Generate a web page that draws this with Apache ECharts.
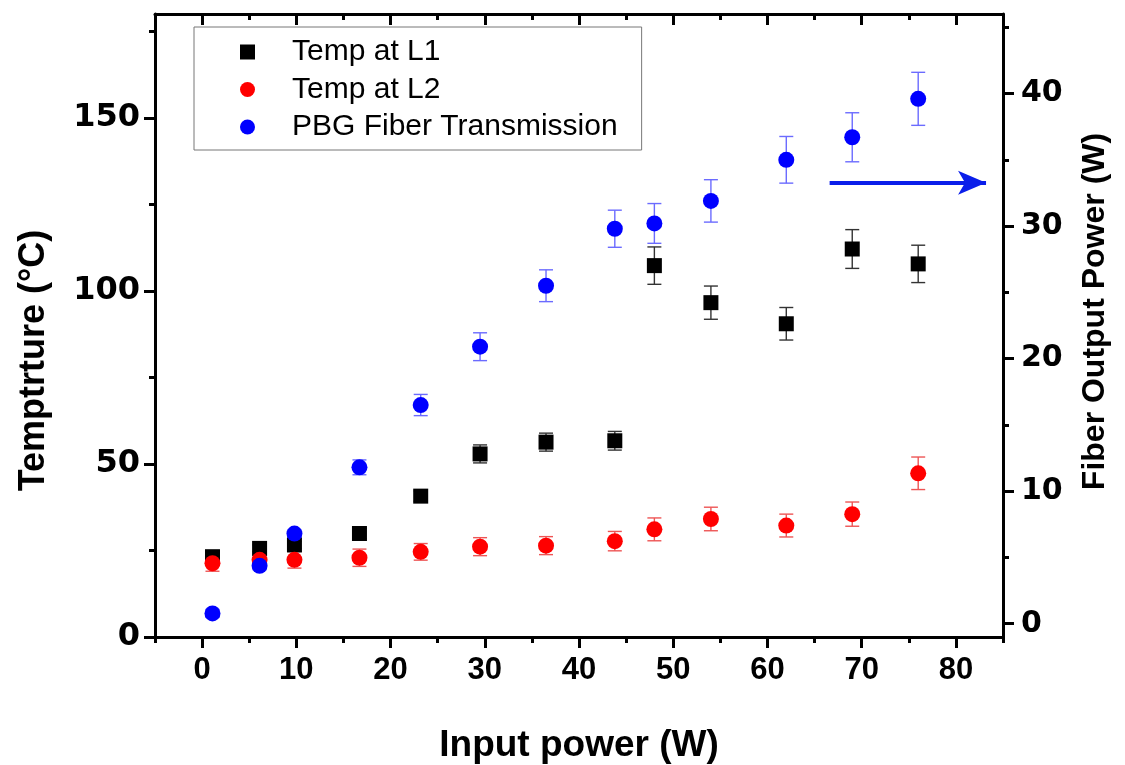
<!DOCTYPE html>
<html>
<head>
<meta charset="utf-8">
<title>Temperature and fiber output power vs input power</title>
<script src="https://cdn.jsdelivr.net/npm/echarts@6/dist/echarts.min.js"></script>
<style>
  html, body { margin: 0; padding: 0; background: #fff; }
  #chart { width: 1125px; height: 765px; }
</style>
</head>
<body>
<div id="chart"></div>
<script>
// Input power (W) at each measurement
const inputPower = [1.1, 6.1, 9.8, 16.7, 23.2, 29.5, 36.5, 43.8, 48.0, 54.0, 62.0, 69.0, 76.0];

// Temperature at L1 (°C) and its uncertainty
const tempL1 = [23.2, 25.6, 26.6, 29.9, 40.7, 52.9, 56.3, 56.7, 107.3, 96.6, 90.5, 112.1, 107.8];
const tempL1Err = [1.0, 1.0, 1.0, 1.5, 1.5, 2.6, 2.6, 2.7, 5.4, 4.8, 4.7, 5.6, 5.4];

// Temperature at L2 (°C) and its uncertainty
const tempL2 = [21.3, 22.3, 22.3, 22.9, 24.6, 26.1, 26.4, 27.7, 31.1, 34.1, 32.2, 35.5, 47.3];
const tempL2Err = [2.3, 2.4, 2.4, 2.5, 2.4, 2.6, 2.6, 2.8, 3.3, 3.4, 3.3, 3.5, 4.7];

// PBG fiber output power (W) and its uncertainty
const fiberPower = [0.78, 4.37, 6.8, 11.8, 16.5, 20.9, 25.5, 29.8, 30.2, 31.9, 35.0, 36.7, 39.6];
const fiberPowerErr = [0.3, 0.3, 0.3, 0.56, 0.8, 1.05, 1.2, 1.4, 1.5, 1.6, 1.76, 1.85, 2.0];

// Tick values
const xMajorTicks = [0, 10, 20, 30, 40, 50, 60, 70, 80];
const xMinorTicks = [-5, 5, 15, 25, 35, 45, 55, 65, 75, 85];
const tempMajorTicks = [0, 50, 100, 150];
const tempMinorTicks = [25, 75, 125, 175];
const powerMajorTicks = [0, 10, 20, 30, 40];
const powerMinorTicks = [5, 15, 25, 35, 45];

// Arrow pointing at the right-hand axis: [x, fiber power] endpoints
const arrowStart = [66.6, 33.26];
const arrowEnd = [83.2, 33.26];

const seriesNames = ['Temp at L1', 'Temp at L2', 'PBG Fiber Transmission'];

const FONT = '"Liberation Sans", Arial, sans-serif';
const WIDE_FONT = '"DejaVu Sans", "Liberation Sans", sans-serif';
const AXIS_W = 3;

function buildErrorData(xs, ys, es) {
  return xs.map((x, i) => [x, ys[i] - es[i], ys[i] + es[i]]);
}

function errorBarSeries(name, xs, ys, es, color, yAxisIndex) {
  return {
    type: 'custom',
    name: name,
    xAxisIndex: 0,
    yAxisIndex: yAxisIndex,
    silent: true,
    data: buildErrorData(xs, ys, es),
    encode: { x: 0, y: [1, 2] },
    renderItem: function (params, api) {
      const x = api.value(0);
      const lo = api.coord([x, api.value(1)]);
      const hi = api.coord([x, api.value(2)]);
      const cap = 7;
      const style = { stroke: color, lineWidth: 1.4, fill: null };
      return {
        type: 'group',
        children: [
          { type: 'line', shape: { x1: lo[0], y1: lo[1], x2: hi[0], y2: hi[1] }, style: style },
          { type: 'line', shape: { x1: lo[0] - cap, y1: lo[1], x2: lo[0] + cap, y2: lo[1] }, style: style },
          { type: 'line', shape: { x1: hi[0] - cap, y1: hi[1], x2: hi[0] + cap, y2: hi[1] }, style: style }
        ]
      };
    }
  };
}

function pairs(xs, ys) {
  return xs.map((x, i) => [x, ys[i]]);
}

function valueAxisBase(min, max) {
  return {
    type: 'value',
    min: min,
    max: max,
    splitLine: { show: false },
    axisLine: { show: true, onZero: false, lineStyle: { color: '#000', width: AXIS_W } }
  };
}

// An extra axis that only contributes a set of (minor) tick marks
function tickOnlyAxis(base, position, values, length, inside) {
  return Object.assign({}, base, {
    position: position,
    axisLine: { show: false, onZero: false },
    axisTick: { show: true, inside: !!inside, length: length, customValues: values,
                lineStyle: { color: '#000', width: AXIS_W } },
    axisLabel: { show: false }
  });
}

const chart = echarts.init(document.getElementById('chart'), null, { renderer: 'canvas' });

const xBase = valueAxisBase(-5, 85);
const tempBase = valueAxisBase(0, 180);
const powerBase = valueAxisBase(-1, 46);

const option = {
  animation: false,
  backgroundColor: '#fff',
  grid: { left: 155, right: 122, top: 14, bottom: 128, containLabel: false, outerBoundsMode: 'none' },
  legend: {
    orient: 'vertical',
    left: 194,
    top: 27,
    padding: [10, 24, 8, 46],
    itemGap: 7.5,
    itemWidth: 15,
    itemHeight: 15,
    borderColor: '#777',
    borderWidth: 1,
    backgroundColor: '#fff',
    textStyle: { fontFamily: FONT, fontSize: 30, color: '#000', lineHeight: 30,
                 padding: [0, 0, 0, 32] },
    data: [
      { name: seriesNames[0], icon: 'rect' },
      { name: seriesNames[1], icon: 'circle' },
      { name: seriesNames[2], icon: 'circle' }
    ]
  },
  xAxis: [
    Object.assign({}, xBase, {
      position: 'bottom',
      name: 'Input power (W)',
      nameLocation: 'middle',
      nameGap: 90,
      nameTextStyle: { fontFamily: FONT, fontWeight: 'bold', fontSize: 37, color: '#000' },
      axisTick: { show: true, length: 11, customValues: xMajorTicks,
                  lineStyle: { color: '#000', width: AXIS_W } },
      axisLabel: { show: true, customValues: xMajorTicks, margin: 18,
                   fontFamily: FONT, fontWeight: 'bold', fontSize: 31, color: '#000' }
    }),
    tickOnlyAxis(xBase, 'bottom', xMinorTicks, 6, false),
    Object.assign({}, xBase, {
      position: 'top',
      axisTick: { show: true, inside: true, length: 11, customValues: xMajorTicks,
                  lineStyle: { color: '#000', width: AXIS_W } },
      axisLabel: { show: false }
    }),
    tickOnlyAxis(xBase, 'top', xMinorTicks, 6, true)
  ],
  yAxis: [
    Object.assign({}, tempBase, {
      position: 'left',
      name: 'Temptrture (°C)',
      nameLocation: 'middle',
      nameGap: 103,
      nameTextStyle: { fontFamily: FONT, fontWeight: 'bold', fontSize: 36, color: '#000',
                       padding: [0, 70, 0, 0] },
      axisTick: { show: true, length: 11, customValues: tempMajorTicks,
                  lineStyle: { color: '#000', width: AXIS_W } },
      axisLabel: { show: true, customValues: tempMajorTicks, margin: 15,
                   fontFamily: WIDE_FONT, fontWeight: 'bold', fontSize: 32, color: '#000' }
    }),
    tickOnlyAxis(tempBase, 'left', tempMinorTicks, 6, false),
    Object.assign({}, powerBase, {
      position: 'right',
      name: 'Fiber Output Power (W)',
      nameLocation: 'middle',
      nameGap: 76,
      nameTextStyle: { fontFamily: FONT, fontWeight: 'bold', fontSize: 32, color: '#000',
                       padding: [0, 0, 0, 28] },
      axisTick: { show: true, length: 11, customValues: powerMajorTicks,
                  lineStyle: { color: '#000', width: AXIS_W } },
      axisLabel: { show: true, customValues: powerMajorTicks, margin: 18,
                   fontFamily: WIDE_FONT, fontWeight: 'bold', fontSize: 30, color: '#000' }
    }),
    tickOnlyAxis(powerBase, 'right', powerMinorTicks, 6, false)
  ],
  series: [
    errorBarSeries('L1 error', inputPower, tempL1, tempL1Err, '#333', 0),
    {
      type: 'scatter',
      name: seriesNames[0],
      xAxisIndex: 0,
      yAxisIndex: 0,
      symbol: 'rect',
      symbolSize: 15,
      itemStyle: { color: '#000', opacity: 1 },
      data: pairs(inputPower, tempL1)
    },
    errorBarSeries('L2 error', inputPower, tempL2, tempL2Err, '#ee5555', 0),
    {
      type: 'scatter',
      name: seriesNames[1],
      xAxisIndex: 0,
      yAxisIndex: 0,
      symbol: 'circle',
      symbolSize: 16,
      itemStyle: { color: '#ff0000', opacity: 1 },
      data: pairs(inputPower, tempL2)
    },
    errorBarSeries('Fiber error', inputPower, fiberPower, fiberPowerErr, '#6b6bff', 2),
    {
      type: 'scatter',
      name: seriesNames[2],
      xAxisIndex: 0,
      yAxisIndex: 2,
      symbol: 'circle',
      symbolSize: 16,
      itemStyle: { color: '#0000ff', opacity: 1 },
      data: pairs(inputPower, fiberPower),
      markLine: {
        silent: true,
        symbol: ['none', 'arrow'],
        symbolSize: [18, 28],
        label: { show: false },
        lineStyle: { color: '#0a1eea', width: 4, type: 'solid' },
        data: [[{ coord: arrowStart }, { coord: arrowEnd }]]
      }
    }
  ]
};

chart.setOption(option);
</script>
</body>
</html>
